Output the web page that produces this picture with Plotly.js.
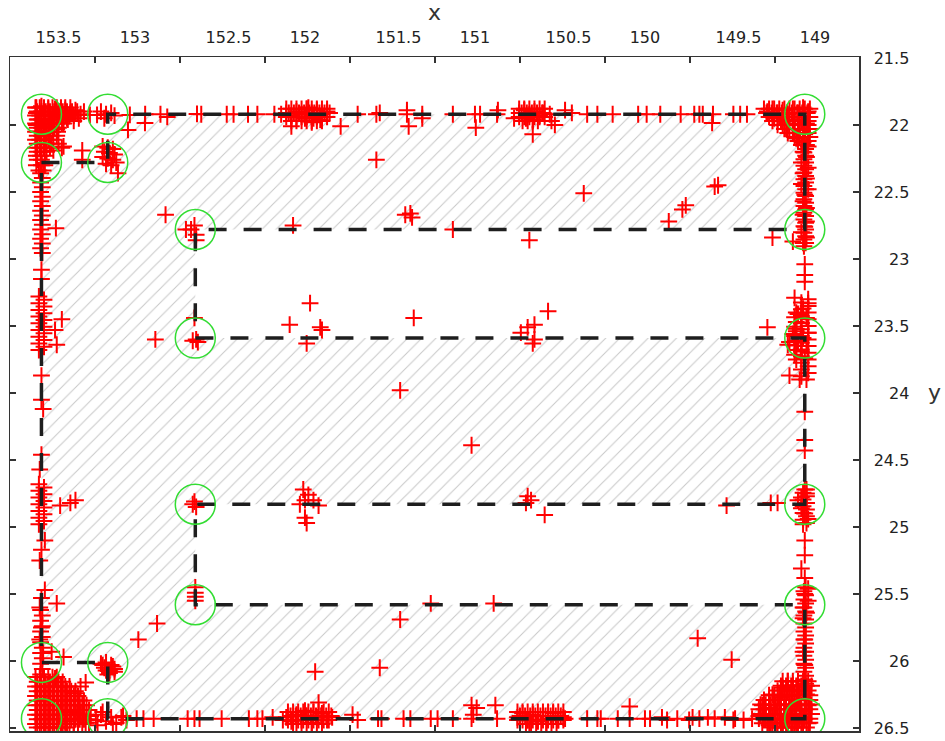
<!DOCTYPE html>
<html><head><meta charset="utf-8">
<script src="https://cdn.plot.ly/plotly-3.0.1.min.js"></script>
<style>html,body{margin:0;padding:0;background:#fff}#chart{width:945px;height:741px}</style>
</head><body><div id="chart"></div>
<script>
// planned route (dashed polygon)
const pathX = [153.55,153.16,153.16,149.06,149.06,152.645,152.645,149.06,149.06,152.645,152.645,149.06,149.06,153.16,153.16,153.55,153.55];
const pathY = [22.28,22.28,21.92,21.92,22.78,22.78,23.59,23.59,24.83,24.83,25.58,25.58,26.43,26.43,26.01,26.01,22.28];
// waypoints (green circles)
const circX = [153.55,153.16,153.55,153.16,149.06,152.645,149.06,152.645,149.06,152.645,149.06,152.645,149.06,153.55,153.16,153.55,153.16,149.06];
const circY = [21.92,21.92,22.28,22.28,21.92,22.78,22.78,23.59,23.59,24.83,24.83,25.58,25.58,26.01,26.01,26.43,26.43,26.43];

// measured positions (red +), scattered, by region
const topX = [153.58,153.55,153.51,153.47,153.44,153.58,153.54,153.50,153.46,153.43,153.57,153.53,153.49,153.45,153.58,153.54,153.50,153.46,153.57,153.52,
153.41,153.38,153.35,153.32,153.30,153.40,153.36,153.33,153.42,153.265,153.223,153.20,153.17,153.14,153.12,153.18,152.941,153.041,
153.03,152.94,152.85,152.81,152.635,152.61,152.46,152.42,152.335,152.28,152.18,152.14,
152.11,152.08,152.05,152.02,151.99,151.96,151.93,151.90,151.87,152.00,151.95,151.91,151.98,152.08,151.96,151.79,
151.69,151.58,151.56,151.40,151.40,151.39,151.31,151.31,151.13,151.00,150.995,150.97,150.87,150.865,150.77,
150.74,150.71,150.68,150.65,150.62,150.60,150.70,150.66,150.66,150.56,150.55,150.53,150.47,150.43,
150.34,150.28,150.19,150.04,149.99,149.91,149.79,149.71,149.68,149.66,149.60,149.605,149.48,149.44,149.40,
149.28,149.25,149.22,149.19,149.16,149.13,149.10,149.07,149.04,149.24,149.20,149.16,149.12,149.08,149.05,
149.17,149.13,149.09,149.06,149.11,149.07,149.04];
const topY = [21.87,21.86,21.88,21.88,21.90,21.91,21.92,21.93,21.92,21.94,21.96,21.97,21.96,21.98,22.00,22.02,22.01,22.03,22.05,22.06,
21.89,21.91,21.89,21.92,21.90,21.95,21.97,21.95,21.99,21.925,21.925,21.90,21.92,21.91,21.93,21.95,21.985,22.037,
21.925,21.92,21.92,21.94,21.918,21.92,21.92,21.92,21.92,21.92,21.92,21.92,
21.91,21.93,21.90,21.92,21.88,21.91,21.89,21.92,21.90,21.95,21.95,21.96,21.87,22.01,21.98,22.01,
21.92,21.92,21.91,21.89,21.92,22.01,21.92,21.95,21.92,21.92,22.02,21.92,21.92,21.89,21.95,
21.91,21.89,21.92,21.90,21.93,21.91,21.95,21.96,22.07,21.92,21.97,22.00,21.89,21.91,
21.92,21.92,21.92,21.92,21.92,21.92,21.92,21.92,21.92,21.92,21.92,21.985,21.92,21.92,21.92,
21.90,21.88,21.91,21.89,21.92,21.88,21.91,21.87,21.90,21.95,21.97,21.96,21.99,21.96,21.99,
22.03,22.06,22.04,22.07,22.10,22.13,22.16];
const rightX = [149.07,149.05,149.08,149.04,149.07,149.05,149.08,149.04,149.06,149.07,149.05,149.07,149.05,149.06,149.08,149.05,149.07,
149.06,149.06,149.06,149.25,149.13,149.59,149.57,
149.12,149.04,149.07,149.10,149.05,149.08,149.11,149.04,149.07,149.10,149.05,149.08,149.13,149.15,149.06,
149.28,149.16,149.15,149.09,149.06,149.06,149.06,149.06,
149.05,149.08,149.05,149.08,149.06,149.04,149.07,149.10,149.26,149.22,149.52,
149.06,149.06,149.08,149.06,149.04,149.06,149.04,149.07,149.05,149.07,149.06,149.07,149.06,149.06];
const rightY = [22.20,22.24,22.28,22.32,22.36,22.40,22.44,22.48,22.52,22.57,22.62,22.67,22.72,22.76,22.80,22.84,22.88,
23.04,23.12,23.17,22.84,22.87,22.46,22.45,
23.29,23.33,23.37,23.41,23.44,23.48,23.52,23.55,23.59,23.62,23.65,23.69,23.56,23.62,23.74,
23.51,23.64,23.87,23.90,24.14,24.35,24.43,24.72,
24.75,24.78,24.82,24.86,24.90,24.94,24.98,24.80,24.82,24.82,24.84,
25.10,25.21,25.31,25.38,25.46,25.50,25.55,25.60,25.64,25.68,25.84,25.93,26.03,26.14];
const bottomX = [149.16,149.13,149.19,149.10,149.25,149.20,149.15,149.10,149.05,
149.31,149.27,149.22,149.18,149.13,149.08,149.04,149.33,149.29,149.25,149.20,149.16,149.11,149.07,149.03,149.27,149.19,149.12,
149.37,149.30,149.47,149.42,149.59,149.53,149.48,149.68,149.63,149.81,149.74,149.72,149.97,149.90,149.87,149.69,149.49,
152.28,152.25,152.19,152.13,
152.11,152.08,152.05,152.02,151.99,151.96,151.93,151.90,151.87,151.84,152.00,151.95,152.07,
151.92,151.72,151.69,151.57,151.55,151.42,151.38,151.26,151.22,151.13,
151.02,150.99,151.01,151.02,150.88,150.87,
150.75,150.72,150.69,150.66,150.63,150.60,150.57,150.54,150.51,150.48,150.68,150.58,
150.47,150.34,150.28,150.26,150.16,150.09,150.09,150.00,
153.44,153.41,153.38,153.35,153.32,153.29,153.26,153.23,153.20,153.17,153.14,153.11,153.08,153.05,153.36,153.22,
153.40,153.34,153.27,153.19,153.13,153.07,
152.99,152.95,152.89,152.69,152.62,152.65,152.49,152.33];
const bottomY = [26.15,26.18,26.20,26.22,26.25,26.27,26.26,26.29,26.25,
26.33,26.35,26.33,26.36,26.34,26.37,26.33,26.41,26.43,26.40,26.44,26.41,26.45,26.42,26.46,26.48,26.49,26.49,
26.43,26.42,26.43,26.44,26.43,26.42,26.44,26.43,26.42,26.43,26.44,26.42,26.43,26.42,26.44,25.83,25.99,
26.43,26.43,26.42,26.44,
26.42,26.45,26.40,26.44,26.41,26.46,26.42,26.39,26.44,26.42,26.37,26.38,26.47,
26.31,26.40,26.44,26.43,26.43,26.43,26.43,26.43,26.43,26.43,
26.33,26.35,26.40,26.43,26.33,26.43,
26.42,26.39,26.44,26.40,26.45,26.41,26.43,26.39,26.44,26.42,26.47,26.47,
26.43,26.43,26.43,26.43,26.43,26.34,26.43,26.43,
26.40,26.45,26.38,26.43,26.40,26.46,26.41,26.44,26.40,26.45,26.42,26.46,26.42,26.44,26.47,26.48,
26.47,26.39,26.46,26.38,26.47,26.41,
26.43,26.43,26.43,26.43,26.43,26.43,26.43,26.43];
const leftX = [153.29,153.32,153.35,153.47,153.54,153.49,153.42,153.56,153.55,153.56,153.46,
153.20,153.17,153.14,153.18,153.15,153.12,153.16,153.19,153.13,153.15,153.12,153.17,
152.87,152.98,
153.19,153.16,153.13,153.18,153.15,153.12,153.19,153.16,153.13,153.17,153.14,153.11,153.10,
153.48,153.42,153.31,153.31,153.43,153.465,153.55,153.55,
153.43,153.46,153.47,153.55,153.55,153.54,153.55,153.56,
153.44,153.38,153.35,153.53,153.55,153.56,153.53,153.55];
const leftY = [26.16,26.19,26.24,26.13,25.94,25.93,25.97,25.84,25.75,25.60,25.57,
26.02,26.01,26.03,26.05,26.07,26.06,26.10,26.03,26.04,26.09,26.08,26.07,
25.72,25.84,
22.16,22.17,22.18,22.20,22.21,22.22,22.24,22.25,22.26,22.29,22.30,22.28,22.36,
22.19,22.16,22.19,22.26,22.17,22.77,23.08,23.15,
23.45,23.64,23.53,23.87,24.05,24.12,24.46,24.57,
24.84,24.82,24.80,25.10,25.17,25.25,25.47,25.53];
const innerX = [152.82,152.07,151.58,151.41,151.38,151.37,151.13,150.68,150.36,149.86,149.78,149.76,
152.88,152.09,151.97,151.91,151.90,151.99,151.36,150.73,150.69,150.66,150.65,150.65,150.57,
151.44,151.02,152.01,151.98,151.95,152.03,151.92,152.00,152.00,151.99,150.69,150.67,150.70,150.59,
151.26,150.89,151.44,151.56,151.94,152.65,152.64,152.66,152.63,152.65,152.66,152.64,
152.645,152.645,152.645,152.645,152.65,152.67,152.64,152.64,152.70];
const innerY = [22.67,22.75,22.26,22.67,22.66,22.69,22.78,22.86,22.51,22.72,22.63,22.60,
23.60,23.49,23.33,23.51,23.53,23.63,23.44,23.55,23.51,23.63,23.60,23.49,23.39,
23.98,24.39,24.72,24.76,24.80,24.83,24.84,24.80,24.93,24.97,24.77,24.80,24.82,24.91,
25.57,25.57,25.69,26.05,26.08,23.44,23.60,23.61,23.62,24.81,24.83,24.85,
25.45,25.49,25.52,25.55,22.75,22.78,22.82,22.86,22.78];

// dense clusters of red +, one y per row with that row's x values
const tlRowY = [21.87,21.90,21.93,21.96,21.99,22.02,22.05,22.08,22.11,22.14,22.17,22.20,22.23,22.26,22.30,22.34];
const tlRowX = [[153.585,153.56,153.535,153.51,153.485,153.46,153.435,153.41,153.38],
[153.575,153.55,153.525,153.50,153.475,153.45,153.425,153.40,153.37,153.34],
[153.585,153.56,153.535,153.51,153.485,153.46,153.435,153.41,153.385,153.36],
[153.575,153.55,153.525,153.50,153.475,153.45,153.425,153.395],
[153.585,153.56,153.535,153.51,153.485,153.46,153.43],
[153.575,153.55,153.525,153.50,153.475,153.45],
[153.585,153.56,153.535,153.51,153.485,153.455],
[153.575,153.55,153.525,153.50,153.46],
[153.585,153.56,153.535,153.51,153.48],
[153.575,153.55,153.525,153.49,153.45],
[153.585,153.56,153.535,153.50],
[153.575,153.55,153.52],[153.58,153.555,153.53],[153.575,153.55],[153.58,153.55,153.53],[153.565,153.54]];
const trRowY = [21.88,21.91,21.94,21.97,22.00,22.03,22.06,22.09,22.12,22.15];
const trRowX = [[149.30,149.27,149.24,149.21,149.18,149.15,149.12,149.09,149.06,149.03],
[149.285,149.255,149.225,149.195,149.165,149.135,149.105,149.075,149.045],
[149.27,149.24,149.21,149.18,149.15,149.12,149.09,149.06,149.03],
[149.25,149.22,149.19,149.16,149.13,149.10,149.07,149.04],
[149.22,149.19,149.16,149.13,149.10,149.07,149.04],
[149.18,149.15,149.12,149.09,149.06,149.03],
[149.16,149.13,149.10,149.07,149.04],[149.12,149.09,149.06,149.03],[149.10,149.07,149.04],[149.08,149.05]];
const blRowY = [26.12,26.155,26.19,26.225,26.26,26.295,26.33,26.365,26.40,26.435,26.47,26.495];
const blRowX = [[153.585,153.56,153.535,153.51,153.485,153.46],
[153.575,153.55,153.525,153.50,153.475,153.45,153.425],
[153.585,153.56,153.535,153.51,153.485,153.46,153.435,153.41,153.385],
[153.575,153.55,153.525,153.50,153.475,153.45,153.425,153.40,153.375,153.35],
[153.585,153.56,153.535,153.51,153.485,153.46,153.435,153.41,153.385,153.36,153.335],
[153.575,153.55,153.525,153.50,153.475,153.45,153.425,153.40,153.375,153.35,153.325,153.30],
[153.585,153.56,153.535,153.51,153.485,153.46,153.435,153.41,153.385,153.36,153.335,153.31,153.285],
[153.575,153.55,153.525,153.50,153.475,153.45,153.425,153.40,153.375,153.35,153.325,153.30,153.27],
[153.585,153.56,153.535,153.51,153.485,153.46,153.435,153.41,153.385,153.36,153.335,153.31,153.285],
[153.575,153.55,153.525,153.50,153.475,153.45,153.425,153.40,153.375,153.35,153.325,153.30,153.27],
[153.585,153.56,153.535,153.51,153.485,153.46,153.435,153.41,153.385,153.36,153.335,153.31],
[153.575,153.55,153.525,153.50,153.475,153.45,153.425,153.40]];
const brRowY = [26.15,26.185,26.22,26.255,26.29,26.325,26.36,26.395,26.43,26.465,26.495];
const brRowX = [[149.19,149.16,149.13,149.10,149.07,149.04],
[149.20,149.17,149.14,149.11,149.08,149.05,149.02],
[149.22,149.19,149.16,149.13,149.10,149.07,149.04],
[149.27,149.24,149.21,149.18,149.15,149.12,149.09,149.06,149.03],
[149.30,149.27,149.24,149.21,149.18,149.15,149.12,149.09,149.06,149.03],
[149.32,149.29,149.26,149.23,149.20,149.17,149.14,149.11,149.08,149.05,149.02],
[149.33,149.30,149.27,149.24,149.21,149.18,149.15,149.12,149.09,149.06,149.03],
[149.32,149.29,149.26,149.23,149.20,149.17,149.14,149.11,149.08,149.05,149.02],
[149.33,149.30,149.27,149.24,149.21,149.18,149.15,149.12,149.09,149.06,149.03],
[149.31,149.28,149.25,149.22,149.19,149.16,149.13,149.10,149.07,149.04],
[149.26,149.23,149.20,149.17,149.14,149.11,149.08,149.05]];
const tcRowY = [21.88,21.91,21.94,21.97,21.88,21.91,21.94,21.97];
const tcRowX = [[152.11,152.08,152.05,152.02,151.99,151.96,151.93,151.90,151.87],
[152.095,152.065,152.035,152.005,151.975,151.945,151.915,151.885,151.855],
[152.11,152.08,152.05,152.02,151.99,151.96,151.93,151.90,151.87],
[152.08,152.05,152.02,151.99,151.96,151.93,151.90],
[150.74,150.71,150.68,150.65,150.62,150.59],
[150.725,150.695,150.665,150.635,150.605],
[150.74,150.71,150.68,150.65,150.62,150.59],
[150.72,150.69,150.66,150.63]];
const bcRowY = [26.38,26.41,26.44,26.47,26.38,26.41,26.44,26.47];
const bcRowX = [[152.10,152.07,152.04,152.01,151.98,151.95,151.92,151.89,151.86],
[152.085,152.055,152.025,151.995,151.965,151.935,151.905,151.875,151.845],
[152.10,152.07,152.04,152.01,151.98,151.95,151.92,151.89,151.86],
[152.05,152.02,151.99,151.96,151.93,151.90],
[150.75,150.72,150.69,150.66,150.63,150.60,150.57,150.54,150.51,150.48],
[150.735,150.705,150.675,150.645,150.615,150.585,150.555,150.525,150.495],
[150.75,150.72,150.69,150.66,150.63,150.60,150.57,150.54,150.51,150.48],
[150.70,150.67,150.64,150.61,150.58,150.55,150.52]];
// dense columns of red + along the two long vertical sides
const colY = [22.18,22.205,22.23,22.255,22.28,22.305,22.33,22.355,22.38,22.405,22.43,22.455,22.48,22.505,22.53,22.555,22.58,22.605,22.63,22.655,22.68,22.705,22.73,22.755,22.78,22.805,22.83,22.855,22.88,22.905,
23.30,23.325,23.35,23.375,23.40,23.425,23.45,23.475,23.50,23.525,23.55,23.575,23.60,23.625,23.65,23.675,23.70,23.725,23.75,23.775,23.80,23.825,23.85,23.875,23.90,
23.40,23.435,23.47,23.505,23.54,23.575,23.61,23.645,23.68,23.715,23.75,
24.72,24.745,24.77,24.795,24.82,24.845,24.87,24.895,24.92,24.945,24.97,
25.45,25.48,25.51,25.54,25.57,25.60,25.63,25.66,25.69,25.72,25.75,25.78,25.81,25.84,25.87,25.90,25.93,25.96,25.99,26.02,26.05,26.08,26.11,26.14,26.17,26.20,
22.36,22.395,22.43,22.465,22.50,22.535,22.57,22.605,22.64,22.675,22.71,22.745,22.78,22.815,22.85,22.885,22.92,22.955,
23.28,23.305,23.33,23.355,23.38,23.405,23.43,23.455,23.48,23.505,23.53,23.555,23.58,23.605,23.63,23.655,23.68,
24.68,24.705,24.73,24.755,24.78,24.805,24.83,24.855,24.88,24.905,24.93,24.955,24.98,
25.62,25.66,25.70,25.74,25.78,25.82,25.86,25.90,25.94,25.98,26.02,26.06,26.10];
const colX = [149.055,149.065,149.055,149.065,149.055,149.065,149.055,149.065,149.055,149.065,149.055,149.065,149.055,149.065,149.055,149.065,149.055,149.065,149.055,149.065,149.055,149.065,149.055,149.065,149.055,149.065,149.055,149.065,149.055,149.065,
149.04,149.08,149.04,149.08,149.04,149.08,149.04,149.08,149.04,149.08,149.04,149.08,149.04,149.08,149.04,149.08,149.04,149.08,149.04,149.08,149.04,149.08,149.04,149.08,149.05,
149.11,149.12,149.11,149.12,149.11,149.12,149.11,149.12,149.11,149.12,149.11,
149.05,149.07,149.05,149.07,149.05,149.07,149.05,149.07,149.05,149.07,149.05,
149.055,149.065,149.055,149.065,149.055,149.065,149.055,149.065,149.055,149.065,149.055,149.065,149.055,149.065,149.055,149.065,149.055,149.065,149.055,149.065,149.055,149.065,149.055,149.065,149.055,149.065,
153.555,153.545,153.555,153.545,153.555,153.545,153.555,153.545,153.555,153.545,153.555,153.545,153.555,153.545,153.555,153.545,153.555,153.545,
153.565,153.535,153.565,153.535,153.565,153.535,153.565,153.535,153.565,153.535,153.565,153.535,153.565,153.535,153.565,153.535,153.565,
153.565,153.535,153.565,153.535,153.565,153.535,153.565,153.535,153.565,153.535,153.565,153.535,153.565,
153.555,153.545,153.555,153.545,153.555,153.545,153.555,153.545,153.555,153.545,153.555,153.545,153.555];

// tick labels
const xTickLabels = ['153.5','153','152.5','152','151.5','151','150.5','150','149.5','149'];
const xTickValues = [153.5,153,152.5,152,151.5,151,150.5,150,149.5,149];
const yTickValues = [21.5,22,22.5,23,23.5,24,24.5,25,25.5,26,26.5];
const yTickLabels = ['21.5','22','22.5','23','23.5','24','24.5','25','25.5','26','26.5'];

function expandRows(ys, xrows, X, Y) {
  ys.forEach((y, i) => xrows[i].forEach(x => { X.push(x); Y.push(y); }));
}
const ptX = [].concat(topX, rightX, bottomX, leftX, innerX, colX);
const ptY = [].concat(topY, rightY, bottomY, leftY, innerY, colY);
expandRows(tlRowY, tlRowX, ptX, ptY);
expandRows(trRowY, trRowX, ptX, ptY);
expandRows(blRowY, blRowX, ptX, ptY);
expandRows(brRowY, brRowX, ptX, ptY);
expandRows(tcRowY, tcRowX, ptX, ptY);
expandRows(bcRowY, bcRowX, ptX, ptY);

const xTickPos = xTickValues.map(v => (v % 1) ? v - 0.05 : v);
const yTickText = yTickLabels.map(s => s.indexOf('.') < 0 ? '\u2007\u2008' + s : s);

const traces = [
  {type:'scatter', mode:'lines', x:pathX, y:pathY, fill:'toself', fillcolor:'rgba(255,255,255,0)',
   fillpattern:{shape:'/', fgcolor:'#c8c8c8', bgcolor:'rgba(255,255,255,0)', size:10, solidity:0.1},
   line:{width:0, color:'rgba(0,0,0,0)'}, hoverinfo:'skip', showlegend:false},
  {type:'scatter', mode:'markers', x:ptX, y:ptY, showlegend:false,
   marker:{symbol:'cross-thin-open', size:12, color:'#ff0000', line:{color:'#ff0000', width:2}}},
  {type:'scatter', mode:'lines', x:pathX, y:pathY, showlegend:false,
   line:{color:'#1e1e1e', width:3.5, dash:'18px,17px'}},
  {type:'scatter', mode:'markers', x:circX, y:circY, showlegend:false,
   marker:{symbol:'circle-open', size:40, color:'#33dd33', line:{color:'#33dd33', width:1.5}}},
  {type:'scatter', mode:'markers', x:[], y:[], xaxis:'x2', yaxis:'y', showlegend:false}
];

const layout = {
  width:945, height:741, margin:{l:10, r:86, t:57, b:10},
  paper_bgcolor:'#ffffff', plot_bgcolor:'#ffffff', showlegend:false,
  font:{family:'DejaVu Sans', size:16, color:'#222'},
  xaxis:{range:[153.735,148.741], side:'top', showline:true, mirror:true, linecolor:'#333', linewidth:1.5,
    ticks:'', tickmode:'array', tickvals:xTickPos, ticktext:xTickLabels, showgrid:false, zeroline:false,
    ticklabelstandoff:6, title:{text:'x', font:{size:22, color:'#333'}, standoff:4}},
  xaxis2:{overlaying:'x', anchor:'y', range:[153.735,148.741], side:'bottom', showticklabels:false,
    ticks:'inside', ticklen:6, tickcolor:'#333', tickwidth:1.5, tickmode:'linear', tick0:153.236, dtick:0.5,
    mirror:'ticks', showline:false, showgrid:false, zeroline:false},
  yaxis:{range:[26.522,21.493], side:'right', showline:true, mirror:'ticks', linecolor:'#333', linewidth:1.5,
    ticks:'inside', ticklen:6, tickcolor:'#333', tickwidth:1.5, tickmode:'array', tickvals:yTickValues, ticktext:yTickText,
    showgrid:false, zeroline:false, ticklabelstandoff:10},
  annotations:[{text:'y', xref:'paper', yref:'paper', x:1.0895, y:0.5015, xanchor:'center', yanchor:'middle',
    showarrow:false, font:{size:22, color:'#333'}}]
};
Plotly.newPlot('chart', traces, layout, {staticPlot:true, displayModeBar:false});
</script>
</body></html>
